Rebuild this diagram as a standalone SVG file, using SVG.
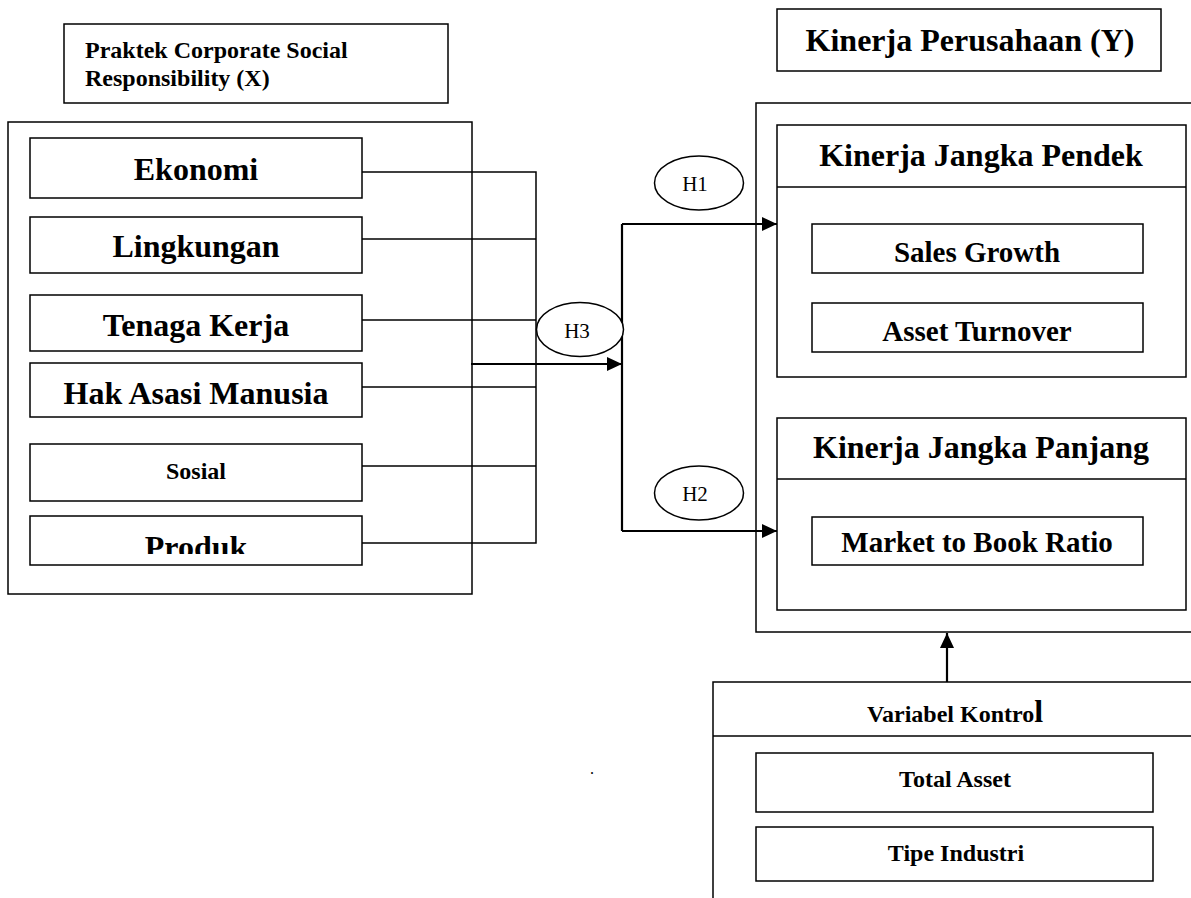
<svg xmlns="http://www.w3.org/2000/svg" width="1191" height="898" viewBox="0 0 1191 898">
<defs>
<style>
.box{fill:#fff;stroke:#000;stroke-width:1.5}
.ln{fill:none;stroke:#000;stroke-width:1.5}
.ar{fill:none;stroke:#000;stroke-width:2.2}
.t{font-family:"Liberation Serif","Times New Roman",serif;font-weight:bold;fill:#000;text-anchor:middle}
.h{font-family:"Liberation Serif","Times New Roman",serif;font-size:21px;fill:#000;text-anchor:middle}
.big{font-size:32px}
.mid{font-size:29px}
.sm{font-size:24px}
</style>
<marker id="ah" viewBox="0 0 15 14" refX="15" refY="7" markerWidth="15" markerHeight="14" markerUnits="userSpaceOnUse" orient="auto">
<path d="M0,0 L15,7 L0,14 Z" fill="#000"/>
</marker>
<clipPath id="clipProduk"><rect x="30" y="516" width="332" height="38"/></clipPath>
</defs>
<rect width="1191" height="898" fill="#fff"/>

<g id="title-x">
<rect class="box" x="64" y="24" width="384" height="79"/>
<text class="t sm" x="85" y="58" style="text-anchor:start">Praktek Corporate Social</text>
<text class="t sm" x="85" y="86" style="text-anchor:start">Responsibility (X)</text>
</g>

<g id="csr-group">
<rect class="box" x="8" y="122" width="464" height="472"/>
</g>
<g id="ekonomi"><rect class="box" x="30" y="138" width="332" height="60"/><text class="t big" x="196" y="180">Ekonomi</text></g>
<g id="lingkungan"><rect class="box" x="30" y="217" width="332" height="56"/><text class="t big" x="196" y="257">Lingkungan</text></g>
<g id="tenaga-kerja"><rect class="box" x="30" y="295" width="332" height="56"/><text class="t big" x="196" y="336">Tenaga Kerja</text></g>
<g id="hak-asasi"><rect class="box" x="30" y="363" width="332" height="54"/><text class="t big" x="196" y="404">Hak Asasi Manusia</text></g>
<g id="sosial"><rect class="box" x="30" y="444" width="332" height="57"/><text class="t sm" x="196" y="479">Sosial</text></g>
<g id="produk"><rect class="box" x="30" y="516" width="332" height="49"/><text class="t big" x="196" y="558" clip-path="url(#clipProduk)">Produk</text></g>

<g id="title-y">
<rect class="box" x="777" y="9" width="384" height="62"/>
<text class="t big" x="970" y="51">Kinerja Perusahaan (Y)</text>
</g>

<g id="kinerja-group">
<rect class="box" x="756" y="103" width="460" height="529"/>
</g>
<g id="jangka-pendek">
<rect class="box" x="777" y="125" width="409" height="252"/>
<line class="ln" x1="777" y1="187" x2="1186" y2="187"/>
<text class="t big" x="981" y="166">Kinerja Jangka Pendek</text>
</g>
<g id="sales-growth"><rect class="box" x="812" y="224" width="331" height="49"/><text class="t mid" x="977" y="262">Sales Growth</text></g>
<g id="asset-turnover"><rect class="box" x="812" y="303" width="331" height="49"/><text class="t mid" x="977" y="341">Asset Turnover</text></g>
<g id="jangka-panjang">
<rect class="box" x="777" y="418" width="409" height="192"/>
<line class="ln" x1="777" y1="479" x2="1186" y2="479"/>
<text class="t big" x="981" y="458">Kinerja Jangka Panjang</text>
</g>
<g id="market-book"><rect class="box" x="812" y="517" width="331" height="48"/><text class="t mid" x="977" y="552">Market to Book Ratio</text></g>

<g id="kontrol">
<rect class="box" x="713" y="682" width="500" height="300"/>
<line class="ln" x1="713" y1="736" x2="1191" y2="736"/>
<text class="t sm" x="955" y="722">Variabel Kontro<tspan style="font-size:32px">l</tspan></text>
</g>
<g id="total-asset"><rect class="box" x="756" y="753" width="397" height="59"/><text class="t sm" x="955" y="787">Total Asset</text></g>
<g id="tipe-industri"><rect class="box" x="756" y="827" width="397" height="54"/><text class="t sm" x="956" y="861">Tipe Industri</text></g>

<g id="connectors">
<path class="ln" d="M362,172 H536 V543 H362"/>
<line class="ln" x1="362" y1="239" x2="536" y2="239"/>
<line class="ln" x1="362" y1="320" x2="536" y2="320"/>
<line class="ln" x1="362" y1="387" x2="536" y2="387"/>
<line class="ln" x1="362" y1="466" x2="536" y2="466"/>
<line class="ar" x1="471" y1="364" x2="622" y2="364" marker-end="url(#ah)"/>
<path class="ar" d="M622,224 V531"/>
<line class="ar" x1="622" y1="224" x2="777" y2="224" marker-end="url(#ah)"/>
<line class="ar" x1="622" y1="531" x2="777" y2="531" marker-end="url(#ah)"/>
<line class="ar" x1="947" y1="682" x2="947" y2="633" marker-end="url(#ah)"/>
</g>

<g id="h3"><ellipse class="box" cx="580" cy="329.5" rx="43.5" ry="27"/><text class="h" x="577" y="338">H3</text></g>
<g id="h1"><ellipse class="box" cx="699" cy="183" rx="44.5" ry="27"/><text class="h" x="695" y="191">H1</text></g>
<g id="h2"><ellipse class="box" cx="699" cy="493" rx="44.5" ry="27"/><text class="h" x="695" y="501">H2</text></g>

<text x="590" y="774" style="font-family:'Liberation Serif',serif;font-size:16px">.</text>
</svg>
